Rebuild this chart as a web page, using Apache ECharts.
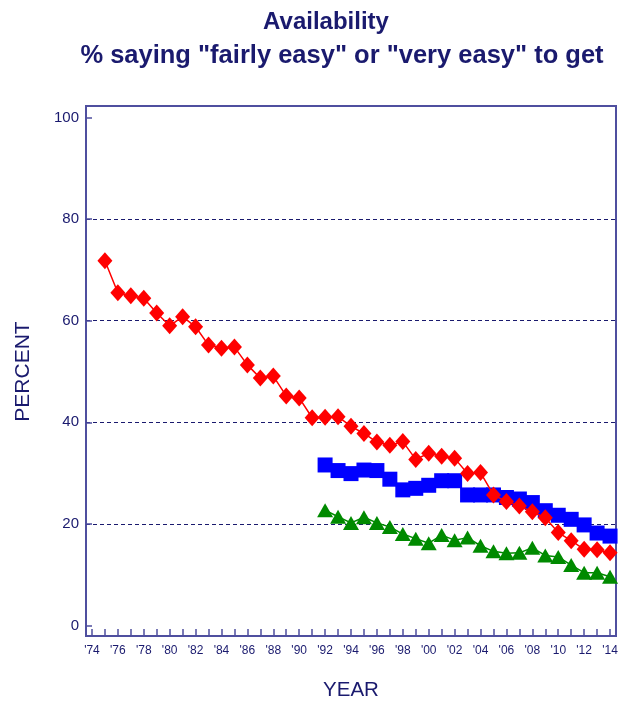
<!DOCTYPE html>
<html>
<head>
<meta charset="utf-8">
<title>Availability</title>
<script src="https://cdn.jsdelivr.net/npm/echarts@6/dist/echarts.min.js"></script>
<style>
  html, body { margin: 0; padding: 0; background: #ffffff; }
  #chart { width: 629px; height: 704px; }
</style>
</head>
<body>
<div id="chart"></div>
<script>
// Survey years and share (%) saying the item is "fairly easy" or "very easy" to get
var redYears = [1975, 1976, 1977, 1978, 1979, 1980, 1981, 1982, 1983, 1984,
                1985, 1986, 1987, 1988, 1989, 1990, 1991, 1992, 1993, 1994,
                1995, 1996, 1997, 1998, 1999, 2000, 2001, 2002, 2003, 2004,
                2005, 2006, 2007, 2008, 2009, 2010, 2011, 2012, 2013, 2014];
var redValues = [71.8, 65.5, 64.9, 64.4, 61.5, 59.0, 60.8, 58.8, 55.2, 54.6,
                 54.8, 51.3, 48.7, 49.1, 45.2, 44.8, 40.9, 41.0, 41.1, 39.2,
                 37.8, 36.1, 35.5, 36.2, 32.7, 33.9, 33.3, 32.9, 29.9, 30.1,
                 25.7, 24.4, 23.5, 22.4, 21.2, 18.3, 16.7, 15.0, 14.9, 14.3];

var laterYears = [1992, 1993, 1994, 1995, 1996, 1997, 1998, 1999, 2000, 2001,
                  2002, 2003, 2004, 2005, 2006, 2007, 2008, 2009, 2010, 2011,
                  2012, 2013, 2014];
var blueValues = [31.6, 30.5, 29.9, 30.6, 30.5, 28.8, 26.7, 27.0, 27.6, 28.5,
                  28.5, 25.7, 25.7, 25.7, 25.2, 24.9, 24.2, 22.6, 21.7, 20.9,
                  19.8, 18.2, 17.6];
var greenValues = [22.7, 21.4, 20.2, 21.3, 20.2, 19.4, 18.0, 17.1, 16.2, 17.8,
                   16.8, 17.3, 15.7, 14.6, 14.2, 14.3, 15.3, 13.8, 13.5, 11.9,
                   10.4, 10.4, 9.6];

// Year ticks run every year; labels every second year
var tickYears = [];
for (var y = 1974; y <= 2014; y++) tickYears.push(y);
var yearLabels = ["'74", "'76", "'78", "'80", "'82", "'84", "'86", "'88", "'90", "'92",
                  "'94", "'96", "'98", "'00", "'02", "'04", "'06", "'08", "'10", "'12", "'14"];
var percentTicks = [0, 20, 40, 60, 80, 100];

function pairs(xs, vs) {
  return xs.map(function (x, i) { return [x, vs[i]]; });
}

// Plot frame geometry (px) and axis padding beyond the first/last year
var frame = { left: 86, top: 106, width: 530, height: 530 };
var yearPad = 0.46;
var firstYear = tickYears[0], lastYear = tickYears[tickYears.length - 1];
var pxPerYear = frame.width / (lastYear - firstYear + 2 * yearPad);
var plotTop = 117.5, plotBottom = 625.5;

var navy = '#1a1a6e';
var frameColor = '#4f4f9f';
var font = 'Liberation Sans, Arial, sans-serif';

var chart = echarts.init(document.getElementById('chart'), null, { renderer: 'canvas' });

chart.setOption({
  backgroundColor: '#ffffff',
  animation: false,
  title: [
    {
      text: 'Availability',
      left: 321, top: 5, textAlign: 'center',
      textStyle: { fontFamily: font, fontSize: 24, fontWeight: 'bold', color: navy }
    },
    {
      text: '% saying "fairly easy" or "very easy" to get',
      left: 337, top: 38, textAlign: 'center',
      textStyle: { fontFamily: font, fontSize: 25.5, fontWeight: 'bold', color: navy }
    }
  ],
  grid: [
    // outer frame
    { left: frame.left, top: frame.top, width: frame.width, height: frame.height,
      show: true, borderColor: frameColor, borderWidth: 2, backgroundColor: 'transparent' },
    // data area
    { left: frame.left, top: plotTop, width: frame.width, height: plotBottom - plotTop },
    // year tick strip along the bottom edge
    { left: frame.left + yearPad * pxPerYear,
      width: (lastYear - firstYear) * pxPerYear,
      top: frame.top + frame.height - 30, height: 30 }
  ],
  xAxis: [
    { gridIndex: 0, type: 'value', show: false, min: 0, max: 1 },
    { gridIndex: 1, type: 'value', show: false,
      min: firstYear - yearPad, max: lastYear + yearPad },
    { gridIndex: 2, type: 'value', min: firstYear, max: lastYear, interval: 1,
      axisLine: { show: false },
      axisTick: { show: true, inside: true, length: 7, lineStyle: { color: frameColor, width: 1.5 } },
      splitLine: { show: false },
      axisLabel: {
        margin: 9, fontFamily: font, fontSize: 12, color: navy,
        formatter: function (v) {
          var i = (v - firstYear) / 2;
          return (v - firstYear) % 2 === 0 ? yearLabels[i] : '';
        }
      },
      name: 'YEAR', nameLocation: 'middle', nameGap: 44,
      nameTextStyle: { fontFamily: font, fontSize: 20.5, color: navy }
    }
  ],
  yAxis: [
    { gridIndex: 0, type: 'value', show: false, min: 0, max: 1 },
    { gridIndex: 1, type: 'value',
      min: percentTicks[0], max: percentTicks[percentTicks.length - 1],
      interval: percentTicks[1] - percentTicks[0],
      axisLine: { show: false },
      axisTick: { show: true, inside: true, length: 6, lineStyle: { color: frameColor, width: 1.5 } },
      axisLabel: { margin: 7, fontFamily: font, fontSize: 15, color: navy },
      splitLine: { show: true, showMinLine: false, showMaxLine: false,
                   lineStyle: { color: navy, type: [4, 3], width: 1 } },
      name: 'PERCENT', nameLocation: 'middle', nameGap: 52, nameRotate: 90,
      nameTextStyle: { fontFamily: font, fontSize: 21, color: navy }
    },
    { gridIndex: 2, type: 'value', show: false, min: 0, max: 1 }
  ],
  series: [
    {
      type: 'line', xAxisIndex: 1, yAxisIndex: 1,
      data: pairs(laterYears, greenValues),
      symbol: 'triangle', symbolSize: [16, 14],
      itemStyle: { color: '#008a00' },
      lineStyle: { color: '#008a00', width: 1.5 },
      z: 3
    },
    {
      type: 'line', xAxisIndex: 1, yAxisIndex: 1,
      data: pairs(laterYears, blueValues),
      symbol: 'rect', symbolSize: 15,
      itemStyle: { color: '#0000ff' },
      lineStyle: { color: '#0000ff', width: 1.5 },
      z: 4
    },
    {
      type: 'line', xAxisIndex: 1, yAxisIndex: 1,
      data: pairs(redYears, redValues),
      symbol: 'diamond', symbolSize: [15, 17],
      itemStyle: { color: '#ff0000' },
      lineStyle: { color: '#ff0000', width: 1.5 },
      z: 5
    }
  ]
});
</script>
</body>
</html>
